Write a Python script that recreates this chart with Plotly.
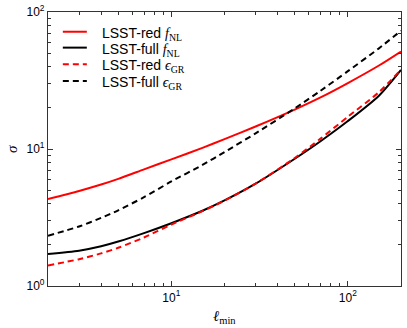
import plotly.graph_objects as go

# multipole values (ell_min) sampled along the curves
ell = [2, 3, 4, 5, 7, 10, 15, 20, 30, 50, 70, 100, 150, 200]

# sigma
red_fnl = [4.32, 4.94, 5.5, 6.05, 7.1, 8.4, 10.2, 11.8, 14.6, 19.4, 23.8, 30.3, 40.7, 51.5]
full_fnl = [1.71, 1.81, 1.95, 2.11, 2.43, 2.87, 3.54, 4.21, 5.58, 8.49, 11.4, 16.0, 24.5, 37.8]
red_egr = [1.41, 1.57, 1.73, 1.90, 2.26, 2.81, 3.52, 4.2, 5.58, 8.6, 11.9, 17.2, 26.0, 38.0]
full_egr = [2.33, 2.72, 3.14, 3.57, 4.45, 5.8, 7.65, 9.5, 13.0, 19.8, 26.6, 37.0, 54.3, 73.0]

SERIF = "Liberation Serif, DejaVu Serif, serif"
SANS = "Liberation Sans, Arial, sans-serif"
f_nl = '<span style="font-family:Liberation Serif"><i>f</i><sub>NL</sub></span>'
e_gr = '<span style="font-family:Liberation Serif"><i>ϵ</i><sub>GR</sub></span>'

labels = ["LSST-red " + f_nl, "LSST-full " + f_nl, "LSST-red " + e_gr, "LSST-full " + e_gr]
values = [red_fnl, full_fnl, red_egr, full_egr]
colors = ["red", "black", "red", "black"]
dashes = ["solid", "solid", "6px,4px", "6px,4px"]

fig = go.Figure()
for name, vals, color, dash in zip(labels, values, colors, dashes):
    fig.add_trace(go.Scatter(
        x=ell, y=vals, mode="lines", name=name, showlegend=False,
        line=dict(color=color, width=2, dash=dash, shape="spline", smoothing=0.7),
    ))

# hand-built legend (matplotlib style, tighter rows than plotly's legend)
row_y = [0.928, 0.870, 0.809, 0.748]
for yy, name, color, dash in zip(row_y, labels, colors, dashes):
    fig.add_shape(type="line", xref="paper", yref="paper",
                  x0=0.042, x1=0.110, y0=yy, y1=yy,
                  line=dict(color=color, width=2, dash=dash))
    fig.add_annotation(xref="paper", yref="paper", x=0.147, y=yy,
                       xanchor="left", yanchor="middle", yshift=-2,
                       text=name, showarrow=False,
                       font=dict(family=SANS, size=14, color="black"))

# axis titles placed as annotations
fig.add_annotation(xref="paper", yref="paper", x=0.501, y=-0.113,
                   xanchor="center", yanchor="middle", showarrow=False,
                   text='<i>ℓ</i><sub>min</sub>', font=dict(family=SERIF, size=15))
fig.add_annotation(xref="paper", yref="paper", x=-0.102, y=0.5,
                   xanchor="center", yanchor="middle", showarrow=False, textangle=-90,
                   borderpad=0, text='<i>σ</i>', font=dict(family=SERIF, size=15))

minor_x = [v * m for m in (1, 10, 100) for v in range(2, 10) if v * m <= 200]
minor_y = [v * m for m in (1, 10) for v in range(2, 10)]

axis_common = dict(
    type="log", showgrid=False, zeroline=False, automargin=False,
    showline=True, linecolor="#333", linewidth=1.2, mirror="allticks",
    ticks="inside", ticklen=5, tickcolor="#333",
    tickfont=dict(family=SANS, size=12, color="black"),
)

fig.update_xaxes(
    **axis_common,
    range=[0.30103, 2.30103],
    tickvals=[10, 100], ticktext=["10<sup>1</sup>", "10<sup>2</sup>"],
    minor=dict(tickvals=minor_x, ticks="inside", ticklen=2.5, tickcolor="#333"),
)
fig.update_yaxes(
    **axis_common,
    range=[0, 2],
    tickvals=[1, 10, 100], ticktext=["10<sup>0</sup>", "10<sup>1</sup>", "10<sup>2</sup>"],
    minor=dict(tickvals=minor_y, ticks="inside", ticklen=2.5, tickcolor="#333"),
)

fig.update_layout(
    width=407, height=328,
    margin=dict(l=48, r=6, t=12, b=42),
    paper_bgcolor="white", plot_bgcolor="white",
    font=dict(family=SANS, size=13, color="black"),
    showlegend=False,
)

# drop the browser's default 8px body margin so the figure fills the window
fig.write_html("out.html", config={"displayModeBar": False},
               post_script="document.body.style.margin='0';")
